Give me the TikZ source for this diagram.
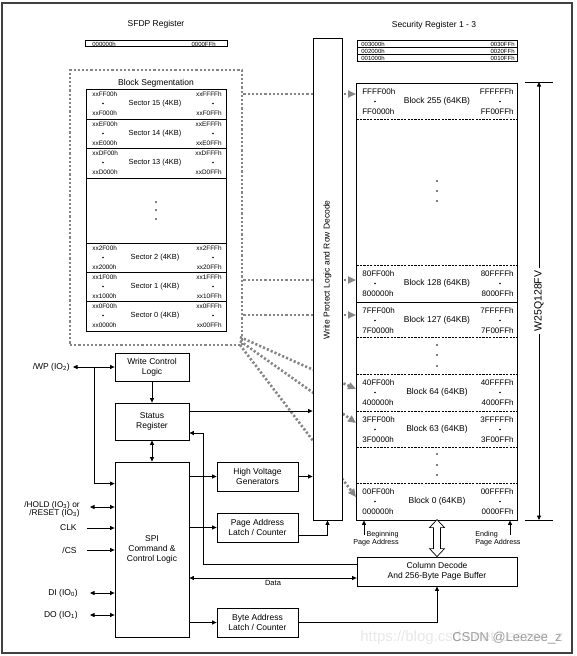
\documentclass[tikz,border=0pt]{standalone}
\usepackage{fontspec}
\setmainfont{Liberation Sans}
\usetikzlibrary{arrows.meta}
\begin{document}
\begin{tikzpicture}[x=1pt,y=-1pt,
  font=\fontsize{8.5}{10}\selectfont,
  >={Triangle[length=4.5pt,width=4pt]},
  line width=0.7pt,
  box/.style={draw=black, line width=0.8pt, fill=white, align=center, inner sep=0pt},
  addr/.style={inner sep=0pt, font=\fontsize{8}{9}\selectfont},
  saddr/.style={inner sep=0pt, font=\fontsize{6.4}{7}\selectfont},
  tinytxt/.style={inner sep=0pt, font=\fontsize{6}{6}\selectfont},
  dotc/.style={circle, fill=black, inner sep=0pt, minimum size=1.8pt},
  dsep/.style={line width=0.6pt, dash pattern=on 2.2pt off 1.2pt},
  segline/.style={draw=gray!95, line width=2.6pt, dash pattern=on 2.2pt off 2pt},
  segarrow/.style={segline, -{Triangle[length=8pt,width=7pt]}},
  pin/.style={inner sep=0pt, align=right},
]
\useasboundingbox (0,0) rectangle (576,656);
\draw[gray!50!black, line width=1.3pt] (2,3) rectangle (572,653);

% ---- registers on top
\node (sfdpt) at (156,24) {SFDP Register};
\node[draw, line width=0.8pt, minimum width=142pt, minimum height=6pt, inner sep=0pt] (sfdp) at (156,43) {};
\node[tinytxt, anchor=west] (sfdpa) at (92,44) {000000h};
\node[tinytxt, anchor=east] (sfdpb) at (216,44) {0000FFh};

\node (sect) at (434,25) {Security Register 1 - 3};
\foreach \k/\yy in {3/43.5,2/50.5,1/57.5} {
  \node[draw, line width=0.8pt, minimum width=160pt, minimum height=7pt, inner sep=0pt] (secr\k) at (437,\yy) {};
  \node[tinytxt, anchor=west] (secra\k) at (361,\yy+0.5) {00\k000h};
  \node[tinytxt, anchor=east] (secrb\k) at (515,\yy+0.5) {00\k0FFh};
}

% ---- block segmentation
\node[segline, minimum width=172pt, minimum height=275pt, inner sep=0pt] (seg) at (156,207.5) {};
\node (segt) at (156,83) {Block Segmentation};
\draw[line width=0.8pt] (86,89) rectangle (226,331);
\foreach \yy in {119,148,178,243,272,301} \draw[line width=0.8pt] (86,\yy) -- (226,\yy);
\foreach \n/\hx/\t in {15/F/89,14/E/119,13/D/148,2/2/243,1/1/272,0/0/301} {
  \node[saddr, anchor=west] (sla\n) at (92,\t+5) {xx\hx F00h};
  \node[saddr, anchor=west] (slb\n) at (92,\t+24) {xx\hx 000h};
  \node[saddr, anchor=east] (sra\n) at (222,\t+5) {xx\hx FFFh};
  \node[saddr, anchor=east] (srb\n) at (222,\t+24) {xx\hx 0FFh};
  \node[dotc] (sdl\n) at (103,\t+14.5) {};
  \node[dotc] (sdr\n) at (213,\t+14.5) {};
  \node[inner sep=0pt, font=\fontsize{7.4}{8}\selectfont] (sl\n) at (155,\t+15) {Sector \n\ (4KB)};
}
\foreach \yy in {202,210,219} \node[dotc] (sv\yy) at (156,\yy) {};

% ---- dotted mapping arrows
\coordinate (a255) at (356,94);
\coordinate (a128) at (356,280);
\coordinate (a127) at (356,315);
\coordinate (a64) at (356,389);
\coordinate (a63) at (356,423);
\coordinate (a0) at (356,497);
\coordinate (s64) at (240,337);
\coordinate (s63) at (240,341);
\coordinate (s0) at (240,345);
\draw[segarrow] (a255 -| seg.east) -- (a255);
\draw[segarrow] (a128 -| seg.east) -- (a128);
\draw[segarrow] (a127 -| seg.east) -- (a127);
\draw[segarrow] (s64) -- (a64);
\draw[segarrow] (s63) -- (a63);
\draw[segarrow] (s0) -- (a0);

% ---- write protect logic
\node[box, minimum width=29pt, minimum height=482pt] (wpl) at (327.5,279) {};
\node[rotate=90, inner sep=0pt] (wpt) at (327.5,270) {Write Protect Logic and Row Decode};

% ---- memory array
\node[box, minimum width=161pt, minimum height=437pt] (arr) at (436.5,301.5) {};
\foreach \yy in {119,265,337,374,411,447,483} \draw[dsep] (356.5,\yy) -- (516.5,\yy);
\draw[line width=0.8pt] (356,302) -- (517,302);
\foreach \n/\la/\lb/\ra/\rb/\t in {255/FFFF00h/FF0000h/FFFFFFh/FF00FFh/83,
    128/80FF00h/800000h/80FFFFh/8000FFh/265,
    127/7FFF00h/7F0000h/7FFFFFh/7F00FFh/302,
    64/40FF00h/400000h/40FFFFh/4000FFh/374,
    63/3FFF00h/3F0000h/3FFFFFh/3F00FFh/411,
    0/00FF00h/000000h/00FFFFh/0000FFh/483} {
  \node[addr, anchor=west] (bla\n) at (362,\t+8.5) {\la};
  \node[addr, anchor=west] (blb\n) at (362,\t+28.5) {\lb};
  \node[addr, anchor=east] (bra\n) at (514,\t+8.5) {\ra};
  \node[addr, anchor=east] (brb\n) at (514,\t+28.5) {\rb};
  \node[dotc] (bdl\n) at (375,\t+18.5) {};
  \node[dotc] (bdr\n) at (500,\t+18.5) {};
  \node[inner sep=0pt] (bl\n) at (437,\t+18.5) {Block \n\ (64KB)};
}
\foreach \yy in {181,191,201,345,355,366,454,465,475} \node[dotc] (av\yy) at (437,\yy) {};

% ---- part number dimension
\coordinate (dimt) at (539,82);
\coordinate (dimb) at (539,520);
\draw[line width=0.8pt] (525,82) -- (553,82);
\draw[line width=0.8pt] (525,520) -- (553,520);
\draw[<->, line width=0.8pt] (dimt) -- node[rotate=90, fill=white, font=\fontsize{10.5}{12}\selectfont, inner sep=3pt] (partno) {W25Q128FV} (dimb);

% ---- page address arrows
\node[anchor=east, align=right, inner sep=0pt, font=\fontsize{7.2}{8}\selectfont] (beg) at (399,539) {Beginning\\Page Address};
\node[anchor=west, align=left, inner sep=0pt, font=\fontsize{7.2}{8}\selectfont] (endp) at (475,539) {Ending\\Page Address};
\coordinate (begt) at (364,535);
\coordinate (endt) at (510,535);
\draw[->] (begt) -- (begt |- arr.south);
\draw[->] (endt) -- (endt |- arr.south);

% ---- control blocks
\node[box, minimum width=74pt, minimum height=28pt] (wcl) at (152,367) {Write Control\\Logic};
\node[box, minimum width=74pt, minimum height=37pt] (sr) at (152,421.5) {Status\\Register};
\node[box, minimum width=74pt, minimum height=175pt] (spi) at (152,549.5) {SPI\\Command \&\\Control Logic};
\node[box, minimum width=81pt, minimum height=29pt] (hvg) at (257.5,476.5) {High Voltage\\Generators};
\node[box, minimum width=81pt, minimum height=29pt] (pal) at (257.5,527.5) {Page Address\\Latch / Counter};
\node[box, minimum width=81pt, minimum height=29pt] (bal) at (257.5,622.5) {Byte Address\\Latch / Counter};
\node[box, minimum width=160pt, minimum height=29pt] (cd) at (437,571.5) {Column Decode\\And 256-Byte Page Buffer};

% ---- hollow double arrow array <-> column decode
\draw[line width=0.7pt, fill=white] (cd.north) -- ++(-7.5,-8) -- ++(4,0) -- ++(0,-21) -- ++(-4,0) -- ++(7.5,-8) -- ++(7.5,8) -- ++(-4,0) -- ++(0,21) -- ++(4,0) -- cycle;

% ---- pins
\node[pin, anchor=east] (wp) at (70,367) {/WP (IO\textsubscript{2})};
\node[pin, anchor=east, font=\fontsize{8.3}{8.3}\selectfont] (hold) at (80,509) {/HOLD (IO\textsubscript{3}) or\\/RESET (IO\textsubscript{3})};
\node[pin, anchor=east] (clk) at (77,528) {CLK};
\node[pin, anchor=east] (cs) at (77,550) {/CS};
\node[pin, anchor=east] (di) at (78,593) {DI (IO\textsubscript{0})};
\node[pin, anchor=east] (do) at (78,615) {DO (IO\textsubscript{1})};

\coordinate (j1) at (94,367);
\draw[<->] ([xshift=3pt]wp.east) -- (wcl.west);
\draw[->] (j1) |- ([yshift=-22pt]spi.north west);
\draw[<->] ([xshift=10pt,yshift=2pt]hold.east) -- ([yshift=2pt]hold.east -| spi.west);
\draw[->] ([xshift=10pt]clk.east) -- (clk.east -| spi.west);
\draw[->] ([xshift=10pt]cs.east) -- (cs.east -| spi.west);
\draw[<->] ([xshift=12pt]di.east) -- (di.east -| spi.west);
\draw[<->] ([xshift=12pt]do.east) -- (do.east -| spi.west);

% ---- internal connectors
\draw[->] (wcl) -- (sr);
\draw[<->] (sr) -- (spi);
\draw[->] ([yshift=10.5pt]sr.east) -- ([yshift=10.5pt]sr.east -| wpl.west);
\draw[->] ([yshift=7.5pt]cd.west) -| ([xshift=14pt,yshift=-11.5pt]sr.east) -- ([yshift=-11.5pt]sr.east);
\draw[->] (hvg.west -| spi.east) -- (hvg.west);
\draw[->] (hvg.east) -- (hvg.east -| wpl.west);
\draw[->] (pal.west -| spi.east) -- (pal.west);
\draw[->] ([yshift=-7.5pt]pal.east) -| (wpl.south);
\draw[->] (bal.west -| spi.east) -- (bal.west);
\draw[->] (bal.east) -| (cd.south);
\draw[<->] ([yshift=-6.5pt]cd.west) -- node[below=2pt, font=\fontsize{7.5}{8}\selectfont, inner sep=0pt] (data) {Data} ([yshift=-6.5pt]cd.west -| spi.east);

% ---- watermark
\node[anchor=west, text=gray!18, font=\fontsize{15}{15}\selectfont, inner sep=0pt] (url) at (360,638) {https://blog.csdn.net/Leezee\_z};
\node[anchor=east, text=gray!75, font=\fontsize{12.9}{13}\selectfont, inner sep=0pt] (csdn) at (562,638) {CSDN @Leezee\_z};
\end{tikzpicture}
\end{document}
